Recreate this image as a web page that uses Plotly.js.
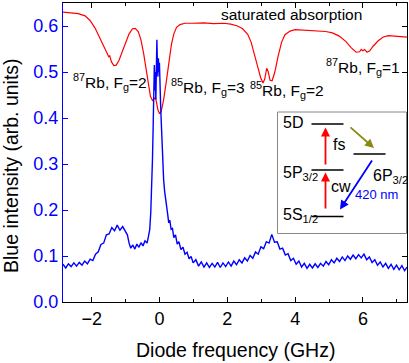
<!DOCTYPE html>
<html>
<head>
<meta charset="utf-8">
<script src="https://cdn.plot.ly/plotly-3.0.1.min.js"></script>
<style>
  body { margin: 0; background: #fff; }
  #chart { width: 409px; height: 363px; }
</style>
</head>
<body>
<div id="chart"></div>
<script>
// saturated absorption (red)
let satFreq = [-2.85,-2.6,-2.4,-2.2,-2.05,-1.9,-1.75,-1.6,-1.5,-1.47,-1.42,-1.35,-1.28,-1.2,-1.1,-1.0,-0.9,-0.8,-0.72,-0.63,-0.55,-0.47,-0.4,-0.33,-0.27,-0.21,-0.16,-0.12,-0.05,0.0,0.05,0.12,0.2,0.28,0.35,0.42,0.5,0.6,0.75,1.0,1.3,1.6,1.9,2.1,2.3,2.45,2.6,2.7,2.8,2.9,2.98,3.05,3.1,3.16,3.2,3.26,3.32,3.4,3.5,3.6,3.7,3.85,4.0,4.3,4.6,4.9,5.1,5.3,5.5,5.65,5.8,5.9,5.95,6.0,6.05,6.12,6.2,6.3,6.45,6.6,6.75,6.9,7.1,7.3];
let satSignal = [0.630,0.629,0.627,0.622,0.612,0.595,0.572,0.548,0.533,0.535,0.522,0.514,0.515,0.525,0.545,0.566,0.583,0.594,0.595,0.588,0.570,0.540,0.505,0.470,0.447,0.438,0.442,0.445,0.418,0.409,0.415,0.440,0.480,0.525,0.560,0.583,0.597,0.603,0.606,0.606,0.607,0.605,0.606,0.604,0.600,0.594,0.582,0.565,0.540,0.510,0.488,0.476,0.484,0.508,0.502,0.482,0.481,0.500,0.535,0.565,0.581,0.589,0.592,0.591,0.589,0.588,0.585,0.578,0.566,0.553,0.543,0.544,0.549,0.546,0.549,0.543,0.546,0.556,0.568,0.576,0.579,0.578,0.578,0.576];

// blue fluorescence (noisy)
let blueFreq = [-2.85,-2.77,-2.69,-2.61,-2.53,-2.45,-2.37,-2.29,-2.21,-2.13,-2.05,-1.97,-1.89,-1.81,-1.73,-1.65,-1.57,-1.49,-1.41,-1.33,-1.25,-1.17,-1.09,-1.01,-0.95,-0.9,-0.85,-0.79,-0.73,-0.67,-0.61,-0.55,-0.49,-0.43,-0.37,-0.33,-0.29,-0.26,-0.23,-0.21,-0.19,-0.17,-0.155,-0.14,-0.125,-0.11,-0.095,-0.08,-0.065,-0.05,-0.035,-0.02,-0.005,0.01,0.03,0.05,0.07,0.09,0.12,0.15,0.18,0.21,0.24,0.27,0.3,0.34,0.38,0.42,0.47,0.52,0.57,0.63,0.69,0.75,0.81,0.87,0.93,0.99,1.07,1.15,1.23,1.31,1.39,1.47,1.55,1.63,1.71,1.79,1.87,1.95,2.03,2.11,2.19,2.27,2.35,2.43,2.51,2.59,2.67,2.75,2.83,2.91,2.99,3.07,3.15,3.23,3.31,3.39,3.47,3.55,3.63,3.71,3.79,3.87,3.95,4.03,4.11,4.19,4.27,4.35,4.43,4.51,4.59,4.67,4.75,4.83,4.91,4.99,5.07,5.15,5.23,5.31,5.39,5.47,5.55,5.63,5.71,5.79,5.87,5.95,6.03,6.11,6.19,6.27,6.35,6.43,6.51,6.59,6.67,6.75,6.83,6.91,6.99,7.07,7.15,7.23,7.3];
let blueSignal = [0.082,0.074,0.083,0.077,0.085,0.078,0.086,0.080,0.089,0.083,0.093,0.090,0.104,0.109,0.125,0.128,0.146,0.148,0.162,0.155,0.167,0.156,0.164,0.152,0.146,0.128,0.117,0.124,0.115,0.126,0.119,0.129,0.122,0.133,0.128,0.142,0.158,0.195,0.25,0.31,0.38,0.45,0.515,0.46,0.50,0.44,0.54,0.57,0.52,0.49,0.53,0.50,0.52,0.46,0.43,0.39,0.34,0.30,0.265,0.24,0.22,0.196,0.19,0.172,0.178,0.158,0.160,0.140,0.146,0.126,0.131,0.114,0.119,0.104,0.108,0.094,0.099,0.085,0.092,0.078,0.087,0.076,0.085,0.075,0.084,0.076,0.086,0.075,0.085,0.077,0.087,0.078,0.089,0.081,0.092,0.085,0.096,0.089,0.101,0.095,0.109,0.104,0.120,0.116,0.131,0.128,0.147,0.130,0.131,0.115,0.117,0.102,0.105,0.090,0.095,0.082,0.089,0.076,0.084,0.073,0.082,0.074,0.083,0.075,0.084,0.078,0.088,0.081,0.092,0.085,0.095,0.088,0.098,0.090,0.100,0.093,0.102,0.094,0.103,0.096,0.104,0.092,0.098,0.086,0.092,0.080,0.087,0.076,0.084,0.073,0.082,0.071,0.080,0.070,0.079,0.068,0.076];

let xTicks = [-2, 0, 2, 4, 6];
let xRange = [-2.85, 7.3];
let yRange = [0, 0.65];

// plot box in pixels
let L = 63, R = 407, T = 3, B = 302;
function px(p){ return (p - L) / (R - L); }
function py(p){ return (B - p) / (B - T); }

let font = 'Arial, "Liberation Sans", sans-serif';

let traces = [
  {x: satFreq, y: satSignal, type: 'scatter', mode: 'lines',
   line: {color: '#ff0000', width: 1.2}, hoverinfo: 'skip'},
  {x: blueFreq, y: blueSignal, type: 'scatter', mode: 'lines',
   line: {color: '#0000ff', width: 1.4}, hoverinfo: 'skip'}
];

function label(text, x, y, size, color, anchor){
  return {text: text, xref: 'paper', yref: 'paper', x: px(x), y: py(y),
    xanchor: anchor || 'left', yanchor: 'middle', showarrow: false,
    font: {family: font, size: size, color: color || '#000'}};
}
function arrow(color, x0, y0, x1, y1){
  return {text: '', xref: 'paper', yref: 'paper', x: px(x1), y: py(y1),
    ax: x0 - x1, ay: y0 - y1, showarrow: true, arrowhead: 2, arrowsize: 1,
    arrowwidth: 1.8, arrowcolor: color, standoff: 0, startstandoff: 0};
}
function level(x0, x1, y){
  return {type: 'line', xref: 'paper', yref: 'paper', x0: px(x0), x1: px(x1),
    y0: py(y), y1: py(y), line: {color: '#000', width: 1.5}};
}

let yTitle = label('Blue intensity (arb. units)', 11, 166, 19.5, '#000', 'center');
yTitle.textangle = -90;

let annotations = [
  yTitle,
  label('Diode frequency (GHz)', 235, 350, 19.5, '#000', 'center'),
  label('saturated absorption', 291.5, 15, 15.5, '#000', 'center'),
  label('<sup>87</sup>Rb, F<sub>g</sub>=2', 71, 82, 15.5),
  label('<sup>85</sup>Rb, F<sub>g</sub>=3', 169, 87, 15.5),
  label('<sup>85</sup>Rb, F<sub>g</sub>=2', 248, 90, 15.5),
  label('<sup>87</sup>Rb, F<sub>g</sub>=1', 324, 67, 15.5),
  label('5D', 281, 123, 16),
  label('5P<sub>3/2</sub>', 281, 173, 16),
  label('5S<sub>1/2</sub>', 281, 215, 16),
  label('6P<sub>3/2</sub>', 371, 176, 16),
  label('fs', 331, 144, 16),
  label('cw', 329, 186, 16),
  label('420 nm', 353, 194, 13, '#0000ff'),
  arrow('#ff0000', 325.5, 210, 325.5, 172.5),
  arrow('#ff0000', 325.5, 166, 325.5, 127.5),
  arrow('#8a8a10', 349, 126, 374, 148),
  arrow('#0000ff', 373, 159, 340, 209.5)
];

let shapes = [
  {type: 'rect', xref: 'paper', yref: 'paper', x0: px(277.5), x1: px(406.5),
   y0: py(233.5), y1: py(112), line: {color: '#888', width: 1}, fillcolor: '#fff', layer: 'above'},
  level(311.5, 343.5, 124),
  level(311.5, 343.5, 170),
  level(311.5, 343.5, 216.5),
  level(353.5, 385.5, 154)
];

let layout = {
  width: 409, height: 363,
  margin: {l: L, r: 409 - R, t: T, b: 363 - B, autoexpand: false},
  paper_bgcolor: '#fff', plot_bgcolor: '#fff',
  showlegend: false,
  font: {family: font, color: '#000'},
  xaxis: {
    range: xRange, tickvals: xTicks, ticks: 'inside', ticklen: 5, tickcolor: '#000',
    showline: true, linecolor: '#000', linewidth: 1, mirror: 'ticks',
    minor: {dtick: 1, ticks: 'inside', ticklen: 3, tickcolor: '#000'},
    showgrid: false, zeroline: false, automargin: false,
    tickfont: {family: font, size: 18, color: '#000'}
  },
  yaxis: {
    range: yRange, dtick: 0.1, tick0: 0, tickformat: '.1f',
    ticks: 'inside', ticklen: 5, tickcolor: '#0000ff',
    showline: true, linecolor: '#0000ff', linewidth: 1,
    showgrid: false, zeroline: false, automargin: false,
    tickfont: {family: font, size: 18, color: '#0000ff'}
  },
  yaxis2: {
    range: yRange, dtick: 0.1, tick0: 0, overlaying: 'y', side: 'right', anchor: 'x',
    ticks: 'inside', ticklen: 5, tickcolor: '#000', showticklabels: false,
    showline: true, linecolor: '#000', linewidth: 1, showgrid: false, zeroline: false,
    automargin: false
  },
  annotations: annotations,
  shapes: shapes
};

// dummy trace to show the right-hand axis
traces.push({x: [xRange[0]], y: [0], yaxis: 'y2', mode: 'markers',
  marker: {opacity: 0}, hoverinfo: 'skip'});

Plotly.newPlot('chart', traces, layout, {staticPlot: true});
</script>
</body>
</html>
